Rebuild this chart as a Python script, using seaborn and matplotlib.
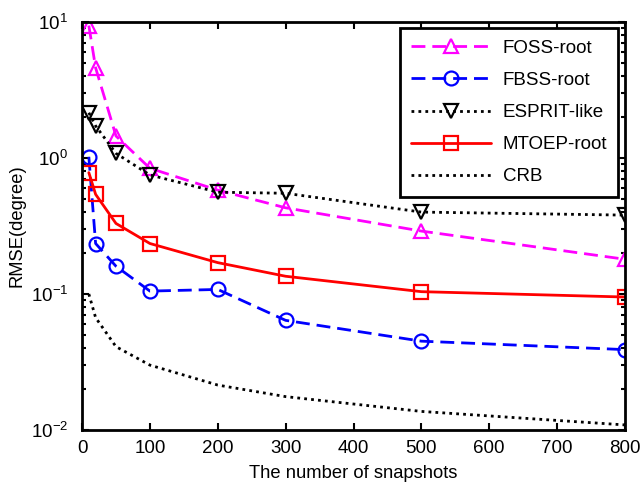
import numpy as np
import pandas as pd
import matplotlib
matplotlib.use('Agg')
import matplotlib.pyplot as plt
import seaborn as sns

# Data
snapshots = [10, 20, 50, 100, 200, 300, 500, 800]
foss_root = [9.4, 4.6, 1.45, 0.84, 0.58, 0.43, 0.29, 0.18]
fbss_root = [1.02, 0.235, 0.16, 0.105, 0.108, 0.064, 0.045, 0.039]
esprit_like = [2.15, 1.72, 1.08, 0.75, 0.56, 0.55, 0.40, 0.38]
mtoep_root = [0.78, 0.54, 0.33, 0.235, 0.17, 0.135, 0.104, 0.095]
crb = [0.1, 0.067, 0.041, 0.030, 0.0214, 0.0176, 0.0137, 0.0109]

sns.set_style('ticks')
plt.rcParams['font.family'] = ['Liberation Sans', 'DejaVu Sans']
plt.rcParams['mathtext.fontset'] = 'custom'
plt.rcParams['mathtext.rm'] = 'Liberation Sans'
plt.rcParams['mathtext.it'] = 'Liberation Sans:italic'
plt.rcParams['xtick.direction'] = 'in'
plt.rcParams['ytick.direction'] = 'in'
plt.rcParams['text.color'] = 'black'
plt.rcParams['axes.labelcolor'] = 'black'
plt.rcParams['xtick.color'] = 'black'
plt.rcParams['ytick.color'] = 'black'

fig = plt.figure(figsize=(6.41, 4.87), dpi=100)
ax = fig.add_axes([0.128, 0.117, 0.847, 0.838])

series = [
    ('FOSS-root', foss_root, 'magenta', (0, (5, 2.5)), '^'),
    ('FBSS-root', fbss_root, 'blue', (0, (5, 2.5)), 'o'),
    ('ESPRIT-like', esprit_like, 'black', (0, (1, 1.5)), 'v'),
    ('MTOEP-root', mtoep_root, 'red', '-', 's'),
]
for name, vals, col, ls, mk in series:
    sns.lineplot(x=snapshots, y=vals, ax=ax, color=col, linestyle=ls, lw=2,
                 marker=mk, markersize=10, markerfacecolor='none',
                 markeredgecolor=col, markeredgewidth=1.6, label=name)
sns.lineplot(x=snapshots, y=crb, ax=ax, color='black', linestyle=(0, (1, 1.5)),
             lw=2, label='CRB')

ax.set_yscale('log')
ax.set_xlim(0, 800)
ax.set_ylim(1e-2, 1e1)
ax.set_xticks(range(0, 801, 100))
ax.tick_params(which='both', top=True, right=True, labelsize=13.5, width=1.5)
ax.tick_params(axis='x', pad=7)
ax.tick_params(axis='y', pad=10)
ax.tick_params(which='major', length=5)
ax.tick_params(which='minor', length=3)
for s in ax.spines.values():
    s.set_linewidth(2)
    s.set_color('black')
ax.set_xlabel('The number of snapshots', fontsize=13.2, labelpad=6)
ax.set_ylabel('RMSE(degree)', fontsize=13.2, labelpad=4)

leg = ax.legend(loc='upper right', fontsize=13.5, fancybox=False, framealpha=1,
                edgecolor='black', handlelength=4.3, handletextpad=0.6,
                borderaxespad=0.35, labelspacing=0.8, borderpad=0.6)
leg.get_frame().set_linewidth(2)

fig.savefig('out.png', dpi=100)
